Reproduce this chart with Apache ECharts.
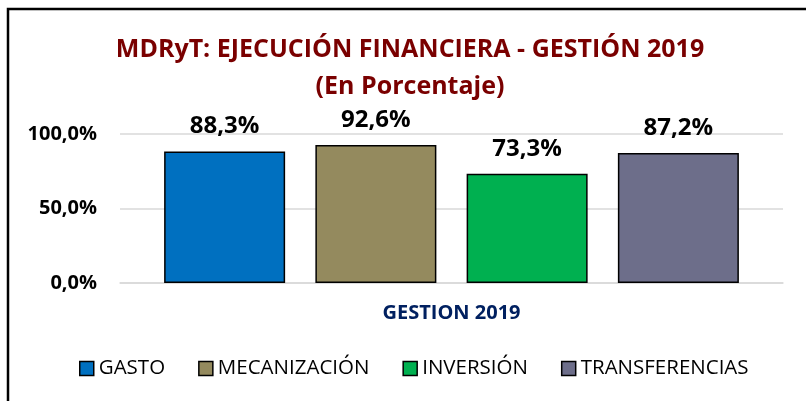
<!DOCTYPE html>
<html>
<head>
<meta charset="utf-8">
<script src="https://cdn.jsdelivr.net/npm/echarts@6/dist/echarts.min.js"></script>
<style>
html,body{margin:0;padding:0;background:#fff;}
#chart{width:806px;height:401px;}
</style>
</head>
<body>
<div id="chart"></div>
<script>
const titleText = 'MDRyT: EJECUCIÓN FINANCIERA - GESTIÓN 2019';
const subtitleText = '(En Porcentaje)';
const categories = ['GESTION 2019'];
const seriesNames = ['GASTO', 'MECANIZACIÓN', 'INVERSIÓN', 'TRANSFERENCIAS'];
const gasto = [88.3];
const mecanizacion = [92.6];
const inversion = [73.3];
const transferencias = [87.2];
const seriesValues = [gasto, mecanizacion, inversion, transferencias];
const seriesColors = ['#0070C0', '#948A5E', '#00B050', '#6D6E8A'];
const yMin = 0, yMax = 100, yInterval = 50;

const fmt = v => Number(v).toFixed(1).replace('.', ',') + '%';
const FONT = 'Open Sans';

const chart = echarts.init(document.getElementById('chart'), null, {renderer: 'canvas'});
chart.setOption({
  backgroundColor: '#fff',
  animation: false,
  title: [
    {text: titleText, left: 410, textAlign: 'center', top: 37, padding: 0,
     textStyle: {fontFamily: FONT, fontWeight: 'bold', fontSize: 25, color: '#7A0000'}},
    {text: subtitleText, left: 410, textAlign: 'center', top: 74, padding: 0,
     textStyle: {fontFamily: FONT, fontWeight: 'bold', fontSize: 25, color: '#7A0000'}}
  ],
  legend: {
    data: seriesNames,
    left: 79, top: 358, padding: 0,
    icon: 'rect', itemWidth: 14, itemHeight: 14, itemGap: 33,
    itemStyle: {borderColor: '#000', borderWidth: 1.5},
    textStyle: {fontFamily: FONT, fontSize: 20.5, color: '#000'}
  },
  grid: {left: 120, right: 23, top: 134, bottom: 118, containLabel: false},
  xAxis: {
    type: 'category', data: categories,
    axisLine: {lineStyle: {color: '#D9D9D9', width: 1.5}},
    axisTick: {show: false},
    axisLabel: {margin: 20, fontFamily: FONT, fontWeight: 'bold', fontSize: 20, color: '#002060'}
  },
  yAxis: {
    type: 'value', min: yMin, max: yMax, interval: yInterval,
    axisLine: {show: false}, axisTick: {show: false},
    splitLine: {lineStyle: {color: '#D9D9D9', width: 1.5}},
    axisLabel: {formatter: fmt, margin: 23, fontFamily: FONT, fontWeight: 'bold', fontSize: 20, color: '#000'}
  },
  series: seriesNames.map((name, i) => ({
    name, type: 'bar', data: seriesValues[i],
    barWidth: 121, barGap: '25%',
    itemStyle: {color: seriesColors[i], borderColor: '#000', borderWidth: 1.5},
    label: {show: true, position: 'top', distance: 13, formatter: p => fmt(p.value),
            fontFamily: FONT, fontWeight: 'bold', fontSize: 24, color: '#000'}
  })),
  graphic: [{
    type: 'polyline', silent: true,
    shape: {points: [[8, 401], [8, 9], [806, 9]]},
    style: {stroke: '#000', lineWidth: 2.5, fill: null}
  }]
});
</script>
</body>
</html>
